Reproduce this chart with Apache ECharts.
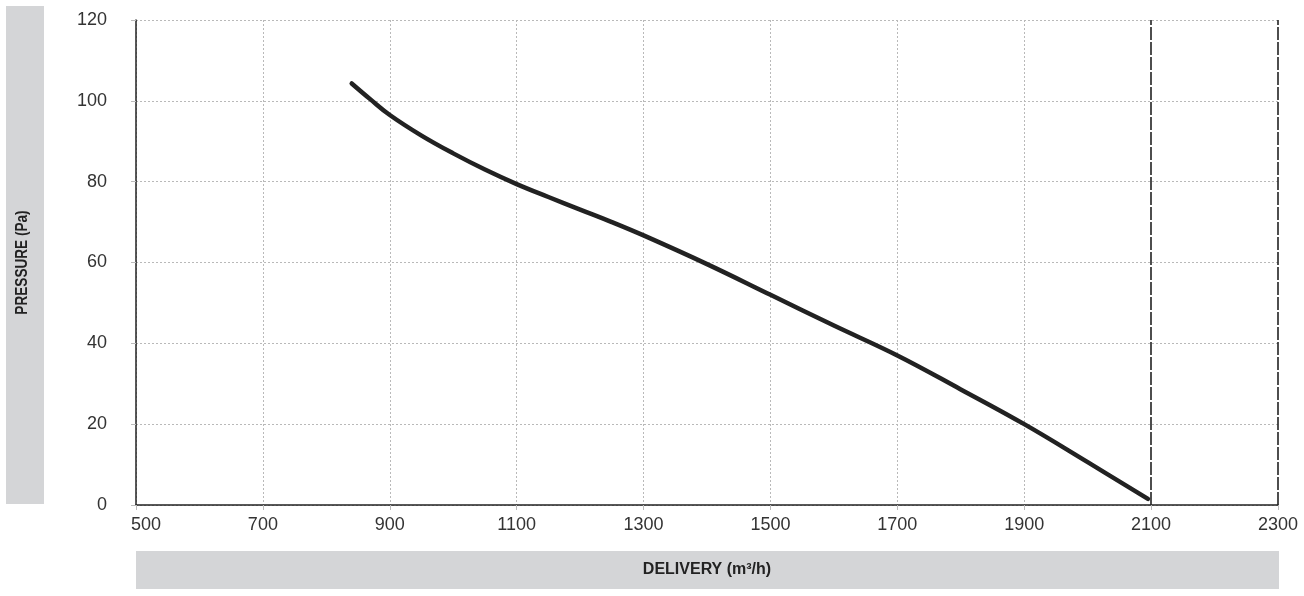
<!DOCTYPE html>
<html>
<head>
<meta charset="utf-8">
<script src="https://cdn.jsdelivr.net/npm/echarts@6/dist/echarts.min.js"></script>
<style>
html,body{margin:0;padding:0;background:#fff;}
#chart{width:1304px;height:596px;}
</style>
</head>
<body>
<div id="chart"></div>
<script>
// Data
var delivery = [840, 870, 900, 950, 1000, 1050, 1100, 1150, 1200, 1250, 1300, 1400, 1500, 1600, 1700, 1800, 1900, 2000, 2095];
var pressure = [104.3, 100.3, 96.5, 91.4, 87.0, 83.0, 79.4, 76.2, 73.1, 70.0, 66.7, 59.6, 52.0, 44.4, 37.0, 28.6, 20.0, 10.6, 1.5];
var xLimits = [2100, 2300];
var xAxisName = 'DELIVERY (m³/h)';
var yAxisName = 'PRESSURE (Pa)';

var FONT = '"Liberation Sans", Arial, Helvetica, sans-serif';
var chart = echarts.init(document.getElementById('chart'), null, {renderer: 'canvas'});
var curve = delivery.map(function (d, i) { return [d, pressure[i]]; });

var splitColors = [];
for (var v = 500; v <= 2300; v += 200) {
  splitColors.push(xLimits.indexOf(v) >= 0 ? 'rgba(0,0,0,0)' : '#b9b9b9');
}

chart.setOption({
  animation: false,
  backgroundColor: '#ffffff',
  grid: {left: 136, right: 26, top: 20, bottom: 91, containLabel: false},
  graphic: [
    {type: 'rect', z: -10, shape: {x: 6, y: 6, width: 38, height: 498}, style: {fill: '#d4d5d7'}},
    {type: 'rect', z: -10, shape: {x: 136, y: 551, width: 1143, height: 38}, style: {fill: '#d4d5d7'}},
    {type: 'text', x: 22, y: 262.5, rotation: Math.PI / 2, scaleX: 0.8, z: 10,
     style: {text: yAxisName, font: 'bold 17px ' + FONT, fill: '#222', align: 'center', verticalAlign: 'middle'}}
  ],
  xAxis: {
    type: 'value', min: 500, max: 2300, interval: 200,
    name: xAxisName, nameLocation: 'middle', nameGap: 57,
    nameTextStyle: {fontFamily: FONT, fontSize: 16, fontWeight: 'bold', color: '#222'},
    axisLine: {show: true, onZero: false, lineStyle: {color: '#222', width: 1.5}},
    axisTick: {show: true, length: 5, lineStyle: {color: '#bbb', width: 1}},
    axisLabel: {
      fontFamily: FONT, fontSize: 18, color: '#333', margin: 11,
      formatter: function (val) { return val === 500 ? '{first|' + val + '}' : String(val); },
      rich: {first: {fontFamily: FONT, fontSize: 18, color: '#333', padding: [0, 0, 0, 20]}}
    },
    splitLine: {show: true, lineStyle: {color: splitColors, type: [2, 2], width: 1}}
  },
  yAxis: {
    type: 'value', min: 0, max: 120, interval: 20,
    axisLine: {show: true, lineStyle: {color: '#222', width: 1.5}},
    axisTick: {show: true, length: 5, lineStyle: {color: '#bbb', width: 1}},
    axisLabel: {fontFamily: FONT, fontSize: 18, color: '#333', margin: 29},
    splitLine: {show: true, lineStyle: {color: '#b9b9b9', type: [2, 2], width: 1}}
  },
  series: [{
    type: 'line',
    data: curve,
    smooth: 0.4,
    symbol: 'none',
    lineStyle: {color: '#222', width: 4.5, cap: 'round', join: 'round'},
    markLine: {
      silent: true,
      symbol: 'none',
      label: {show: false},
      lineStyle: {color: '#222', type: [13, 2], width: 1.6},
      data: xLimits.map(function (x) { return {xAxis: x}; })
    }
  }]
});
</script>
</body>
</html>
